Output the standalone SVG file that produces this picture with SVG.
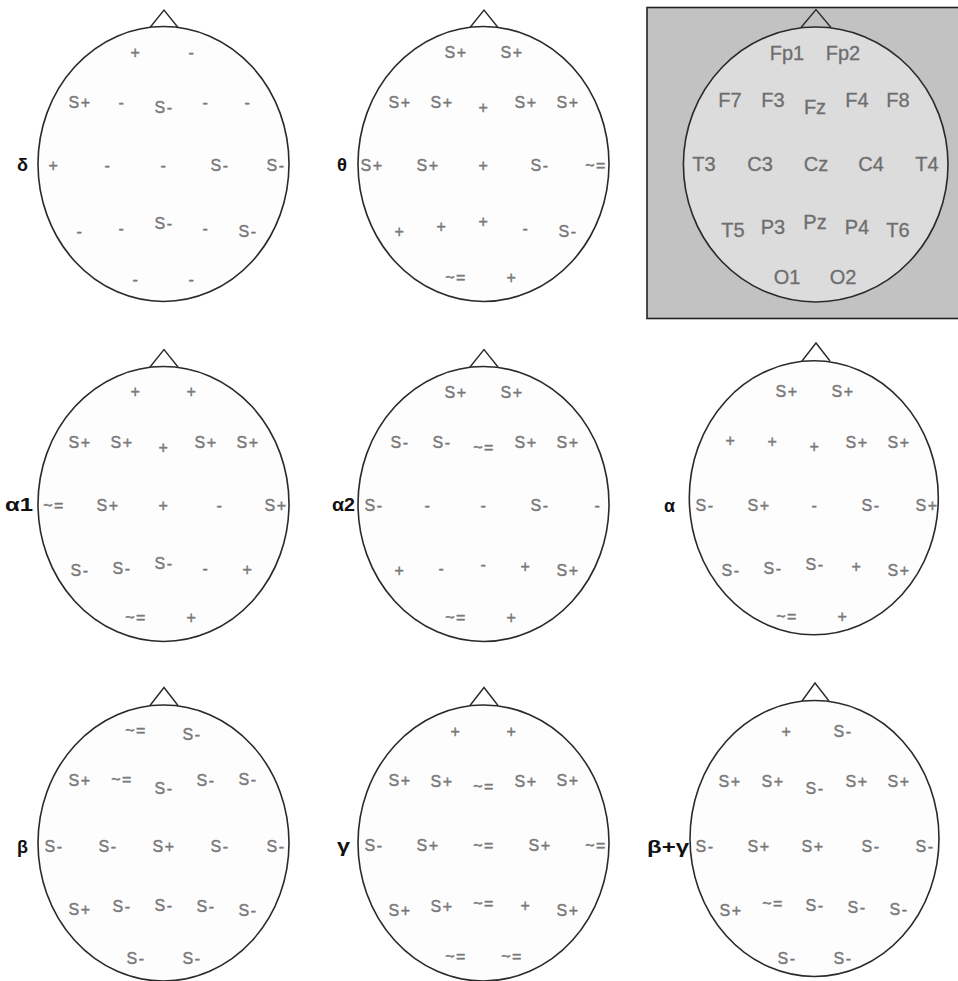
<svg xmlns="http://www.w3.org/2000/svg" width="958" height="981" viewBox="0 0 958 981">
<style>
.head{fill:#fdfdfd;stroke:#2a2a2a;stroke-width:1.6}
.mhead{fill:#dcdcdc;stroke:#2a2a2a;stroke-width:1.6}
.nose{fill:none;stroke:#2a2a2a;stroke-width:1.4}
.s{font-family:"Liberation Sans",Arial,sans-serif;font-size:16px;fill:#7a7a7a;stroke:#7a7a7a;stroke-width:0.45px;text-anchor:middle;letter-spacing:1.5px}
.e{font-family:"Liberation Sans",Arial,sans-serif;font-size:20px;fill:#6e6e6e;stroke:#6e6e6e;stroke-width:0.3px;text-anchor:middle}
.lbl{font-family:"Liberation Sans",Arial,sans-serif;font-size:19px;font-weight:bold;fill:#111}
</style>
<rect width="958" height="981" fill="#ffffff"/>

<g id="head-delta">
<ellipse class="head" cx="163.5" cy="164" rx="125.5" ry="137.5"/>
<polyline class="nose" points="150,27.5 164,10 178,27.5"/>
<text class="lbl" x="17" y="171" textLength="11" lengthAdjust="spacingAndGlyphs">δ</text>
<g transform="translate(164,165)">
<text class="s" x="-28" y="-107.5">+</text><text class="s" x="28" y="-107.5">-</text>
<text class="s" x="-84" y="-57.5">S+</text><text class="s" x="-42" y="-57.5">-</text><text class="s" x="0" y="-52.5">S-</text><text class="s" x="42" y="-57.5">-</text><text class="s" x="84" y="-57.5">-</text>
<text class="s" x="-110" y="5.5">+</text><text class="s" x="-56" y="5.5">-</text><text class="s" x="0" y="5.5">-</text><text class="s" x="56" y="5.5">S-</text><text class="s" x="112" y="5.5">S-</text>
<text class="s" x="-84" y="71.5">-</text><text class="s" x="-42" y="68.5">-</text><text class="s" x="0" y="63.5">S-</text><text class="s" x="42" y="68.5">-</text><text class="s" x="84" y="71.5">S-</text>
<text class="s" x="-28" y="119.5">-</text><text class="s" x="28" y="119.5">-</text>
</g>
</g>

<g id="head-theta">
<ellipse class="head" cx="483.5" cy="164" rx="125.5" ry="137.5"/>
<polyline class="nose" points="470,27.5 484,10 498,27.5"/>
<text class="lbl" x="337" y="171" textLength="10" lengthAdjust="spacingAndGlyphs">θ</text>
<g transform="translate(484,165)">
<text class="s" x="-28" y="-107.5">S+</text><text class="s" x="28" y="-107.5">S+</text>
<text class="s" x="-84" y="-57.5">S+</text><text class="s" x="-42" y="-57.5">S+</text><text class="s" x="0" y="-52.5">+</text><text class="s" x="42" y="-57.5">S+</text><text class="s" x="84" y="-57.5">S+</text>
<text class="s" x="-112" y="5.5">S+</text><text class="s" x="-56" y="5.5">S+</text><text class="s" x="0" y="5.5">+</text><text class="s" x="56" y="5.5">S-</text><text class="s" x="112" y="5.5">~=</text>
<text class="s" x="-84" y="71.5">+</text><text class="s" x="-42" y="66.5">+</text><text class="s" x="0" y="61.5">+</text><text class="s" x="42" y="68.5">-</text><text class="s" x="84" y="71.5">S-</text>
<text class="s" x="-28" y="117.5">~=</text><text class="s" x="28" y="117.5">+</text>
</g>
</g>

<g id="head-map">
<rect x="647" y="7.5" width="312" height="311" fill="#c2c2c2" stroke="#222" stroke-width="1.6"/>
<ellipse class="mhead" cx="815.7" cy="164.5" rx="132.3" ry="137.5"/>
<polyline class="nose" points="801,27.5 816,9.5 831,27.5"/>
<text class="e" x="787" y="60">Fp1</text><text class="e" x="843" y="60">Fp2</text>
<text class="e" x="730" y="107">F7</text><text class="e" x="773" y="107">F3</text><text class="e" x="815" y="114">Fz</text><text class="e" x="857" y="107">F4</text><text class="e" x="898" y="107">F8</text>
<text class="e" x="704" y="171">T3</text><text class="e" x="760" y="171">C3</text><text class="e" x="816" y="171">Cz</text><text class="e" x="871" y="171">C4</text><text class="e" x="927" y="171">T4</text>
<text class="e" x="733" y="237">T5</text><text class="e" x="773" y="234">P3</text><text class="e" x="815" y="229">Pz</text><text class="e" x="857" y="234">P4</text><text class="e" x="898" y="237">T6</text>
<text class="e" x="787" y="284">O1</text><text class="e" x="843" y="284">O2</text>
</g>

<g id="head-alpha1">
<ellipse class="head" cx="163.5" cy="504" rx="125.5" ry="137.5"/>
<polyline class="nose" points="150,367 164,349.5 178,367"/>
<text class="lbl" x="5" y="511" textLength="28" lengthAdjust="spacingAndGlyphs">α1</text>
<g transform="translate(164,505)">
<text class="s" x="-28" y="-108.5">+</text><text class="s" x="28" y="-108.5">+</text>
<text class="s" x="-84" y="-57.5">S+</text><text class="s" x="-42" y="-57.5">S+</text><text class="s" x="0" y="-52.5">+</text><text class="s" x="42" y="-57.5">S+</text><text class="s" x="84" y="-57.5">S+</text>
<text class="s" x="-110" y="5.5">~=</text><text class="s" x="-56" y="5.5">S+</text><text class="s" x="0" y="5.5">+</text><text class="s" x="56" y="5.5">-</text><text class="s" x="112" y="5.5">S+</text>
<text class="s" x="-84" y="70.5">S-</text><text class="s" x="-42" y="68.5">S-</text><text class="s" x="0" y="63.5">S-</text><text class="s" x="42" y="68.5">-</text><text class="s" x="84" y="69.5">+</text>
<text class="s" x="-28" y="117.5">~=</text><text class="s" x="28" y="117.5">+</text>
</g>
</g>

<g id="head-alpha2">
<ellipse class="head" cx="483.5" cy="504" rx="125.5" ry="137.5"/>
<polyline class="nose" points="470,367 484,349.5 498,367"/>
<text class="lbl" x="332" y="511" textLength="23" lengthAdjust="spacingAndGlyphs">α2</text>
<g transform="translate(484,505)">
<text class="s" x="-28" y="-107.5">S+</text><text class="s" x="28" y="-107.5">S+</text>
<text class="s" x="-84" y="-57.5">S-</text><text class="s" x="-42" y="-57.5">S-</text><text class="s" x="0" y="-52.5">~=</text><text class="s" x="42" y="-57.5">S+</text><text class="s" x="84" y="-57.5">S+</text>
<text class="s" x="-110" y="5.5">S-</text><text class="s" x="-56" y="5.5">-</text><text class="s" x="0" y="5.5">-</text><text class="s" x="56" y="5.5">S-</text><text class="s" x="114" y="5.5">-</text>
<text class="s" x="-84" y="70.5">+</text><text class="s" x="-42" y="68.5">-</text><text class="s" x="0" y="64.5">-</text><text class="s" x="42" y="66.5">+</text><text class="s" x="84" y="70.5">S+</text>
<text class="s" x="-28" y="117.5">~=</text><text class="s" x="28" y="117.5">+</text>
</g>
</g>

<g id="head-alpha">
<ellipse class="head" cx="813.8" cy="497.8" rx="124.5" ry="137"/>
<polyline class="nose" points="802,361 816,343 830,361"/>
<text class="lbl" x="664" y="512" textLength="11" lengthAdjust="spacingAndGlyphs">α</text>
<g transform="translate(815,505.5)">
<text class="s" x="-28" y="-108.5">S+</text><text class="s" x="28" y="-108.5">S+</text>
<text class="s" x="-84" y="-59.5">+</text><text class="s" x="-42" y="-58.5">+</text><text class="s" x="0" y="-53.5">+</text><text class="s" x="42" y="-57.5">S+</text><text class="s" x="84" y="-57.5">S+</text>
<text class="s" x="-110" y="5.5">S-</text><text class="s" x="-56" y="5.5">S+</text><text class="s" x="0" y="5.5">-</text><text class="s" x="56" y="5.5">S-</text><text class="s" x="112" y="5.5">S+</text>
<text class="s" x="-84" y="70.5">S-</text><text class="s" x="-42" y="68.5">S-</text><text class="s" x="0" y="64.5">S-</text><text class="s" x="42" y="66.5">+</text><text class="s" x="84" y="70.5">S+</text>
<text class="s" x="-28" y="116.5">~=</text><text class="s" x="28" y="116.5">+</text>
</g>
</g>

<g id="head-beta">
<ellipse class="head" cx="163.5" cy="843" rx="125.5" ry="138"/>
<polyline class="nose" points="150,705.5 164,687.5 178,705.5"/>
<text class="lbl" x="17" y="853" textLength="11" lengthAdjust="spacingAndGlyphs">β</text>
<g transform="translate(164,846)">
<text class="s" x="-28" y="-110.5">~=</text><text class="s" x="28" y="-106.5">S-</text>
<text class="s" x="-84" y="-60.5">S+</text><text class="s" x="-42" y="-61.5">~=</text><text class="s" x="0" y="-52.5">S-</text><text class="s" x="42" y="-60.5">S-</text><text class="s" x="84" y="-61.5">S-</text>
<text class="s" x="-110" y="5.5">S-</text><text class="s" x="-56" y="5.5">S-</text><text class="s" x="0" y="5.5">S+</text><text class="s" x="56" y="5.5">S-</text><text class="s" x="112" y="5.5">S-</text>
<text class="s" x="-84" y="68.5">S+</text><text class="s" x="-42" y="65.5">S-</text><text class="s" x="0" y="64.5">S-</text><text class="s" x="42" y="65.5">S-</text><text class="s" x="84" y="69.5">S-</text>
<text class="s" x="-28" y="117.5">S-</text><text class="s" x="28" y="117.5">S-</text>
</g>
</g>

<g id="head-gamma">
<ellipse class="head" cx="483.5" cy="843" rx="125.5" ry="138"/>
<polyline class="nose" points="470,705.5 484,687.5 498,705.5"/>
<text class="lbl" x="337" y="852" textLength="13" lengthAdjust="spacingAndGlyphs">γ</text>
<g transform="translate(484,845)">
<text class="s" x="-28" y="-108.5">+</text><text class="s" x="28" y="-108.5">+</text>
<text class="s" x="-84" y="-59.5">S+</text><text class="s" x="-42" y="-58.5">S+</text><text class="s" x="0" y="-53.5">~=</text><text class="s" x="42" y="-58.5">S+</text><text class="s" x="84" y="-59.5">S+</text>
<text class="s" x="-110" y="5.5">S-</text><text class="s" x="-56" y="5.5">S+</text><text class="s" x="0" y="5.5">~=</text><text class="s" x="56" y="5.5">S+</text><text class="s" x="112" y="5.5">~=</text>
<text class="s" x="-84" y="70.5">S+</text><text class="s" x="-42" y="66.5">S+</text><text class="s" x="0" y="63.5">~=</text><text class="s" x="42" y="65.5">+</text><text class="s" x="84" y="70.5">S+</text>
<text class="s" x="-28" y="116.5">~=</text><text class="s" x="28" y="116.5">~=</text>
</g>
</g>

<g id="head-betagamma">
<ellipse class="head" cx="814.5" cy="838.5" rx="124.5" ry="138"/>
<polyline class="nose" points="802,701 815,683 829,701"/>
<text class="lbl" x="647" y="853" textLength="42" lengthAdjust="spacingAndGlyphs">β+γ</text>
<g transform="translate(815,846.5)">
<text class="s" x="-28" y="-109.5">+</text><text class="s" x="28" y="-109.5">S-</text>
<text class="s" x="-85" y="-59.5">S+</text><text class="s" x="-42" y="-59.5">S+</text><text class="s" x="0" y="-52.5">S-</text><text class="s" x="42" y="-59.5">S+</text><text class="s" x="84" y="-59.5">S+</text>
<text class="s" x="-110" y="5.5">S-</text><text class="s" x="-56" y="5.5">S+</text><text class="s" x="-2" y="5.5">S+</text><text class="s" x="56" y="5.5">S-</text><text class="s" x="110" y="5.5">S-</text>
<text class="s" x="-84" y="69">S+</text><text class="s" x="-42" y="62.5">~=</text><text class="s" x="0" y="64">S-</text><text class="s" x="42" y="66">S-</text><text class="s" x="84" y="68.5">S-</text>
<text class="s" x="-28" y="117.5">S-</text><text class="s" x="28" y="117.5">S-</text>
</g>
</g>
</svg>
